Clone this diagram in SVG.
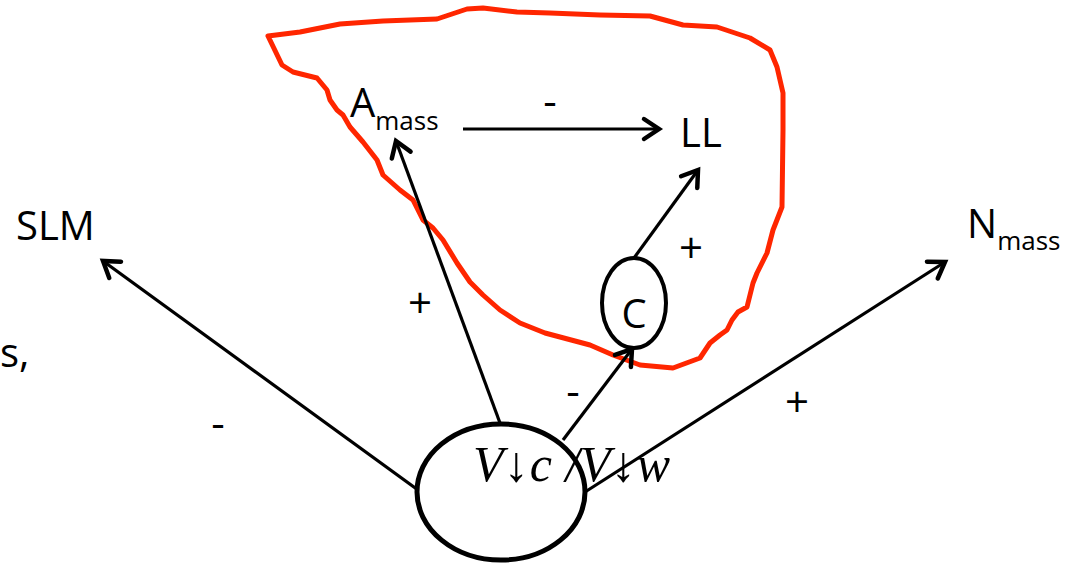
<svg xmlns="http://www.w3.org/2000/svg" width="1080" height="565" viewBox="0 0 1080 565">
<style>
.lbl{font-family:"Open Sans","Liberation Sans",sans-serif;fill:#000}
.big{font-size:40px}
.sub{font-size:26px}
.sign{font-family:"Open Sans","Liberation Sans",sans-serif;font-size:42px;text-anchor:middle;fill:#000}
.edge{stroke:#000;stroke-width:3.2;fill:none}
.node{stroke:#000;fill:#fff}
</style>
<defs>
<marker id="arr" markerUnits="userSpaceOnUse" markerWidth="40" markerHeight="40" viewBox="-20 -20 40 40" refX="0" refY="0" orient="auto">
<path d="M-15,-10 L0,0 L-15,10" fill="none" stroke="#000" stroke-width="4.5" stroke-linecap="round" stroke-linejoin="miter"/>
</marker>
</defs>
<rect width="1080" height="565" fill="#fff"/>
<g id="region">
<path d="M268,36 L300,32 L340,24 L383,21 L437,19 L467,9 L483,8 L517,12 L550,13 L600,15 L650,16 L683,25 L717,27 L750,38 L770,50 L777,67 L783,93 L783,130 L782,207 L773,230 L767,253 L757,273 L753,283 L747,307 L738,312 L732,320 L727,330 L720,335 L710,343 L700,358 L673,368 L640,365 L613,355 L590,345 L575,341 L545,333 L520,323 L500,310 L483,295 L470,282 L457,263 L443,240 L433,228 L423,220 L413,200 L400,190 L383,175 L377,160 L363,142 L350,127 L343,115 L337,110 L330,100 L327,90 L317,78 L293,72 L282,65 Z" fill="none" stroke="#FF2600" stroke-width="5" stroke-linejoin="round"/>
</g>
<g id="connectors">
<line class="edge" x1="418" y1="490" x2="103" y2="261" marker-end="url(#arr)"/>
<line class="edge" x1="500" y1="423" x2="396" y2="141" marker-end="url(#arr)"/>
<line class="edge" x1="563" y1="440" x2="632" y2="349" marker-end="url(#arr)"/>
<line class="edge" x1="634" y1="258" x2="698" y2="170" marker-end="url(#arr)"/>
<line class="edge" x1="585" y1="492" x2="945" y2="262" marker-end="url(#arr)"/>
<line class="edge" x1="463" y1="129" x2="659" y2="129" marker-end="url(#arr)"/>
<text class="sign" x="218" y="438">-</text>
<text class="sign" x="420" y="318">+</text>
<text class="sign" x="573" y="406">-</text>
<text class="sign" x="797" y="417">+</text>
<text class="sign" x="691" y="263">+</text>
<text class="sign" x="550" y="116">-</text>
</g>
<g id="ratio">
<ellipse class="node" cx="501" cy="492" rx="84" ry="68" stroke-width="5"/>
<text x="473" y="481" font-family="'Liberation Serif',serif" font-style="italic" font-size="50" textLength="197" lengthAdjust="spacing" fill="#000">V↓c /V↓w</text>
</g>
<g id="C">
<ellipse class="node" cx="634" cy="303" rx="32" ry="45" stroke-width="4"/>
<text class="lbl" x="634" y="328" font-size="40" text-anchor="middle">C</text>
</g>
<g id="SLM"><text class="lbl big" x="16" y="240">SLM</text></g>
<g id="Amass"><text class="lbl big" x="350" y="117">A<tspan class="sub" dy="13">mass</tspan></text></g>
<g id="LL"><text class="lbl big" x="680" y="147">LL</text></g>
<g id="Nmass"><text class="lbl big" x="967" y="238">N<tspan class="sub" font-size="28" dy="12">mass</tspan></text></g>
<g id="s"><text class="lbl big" x="0" y="367">s,</text></g>
</svg>
